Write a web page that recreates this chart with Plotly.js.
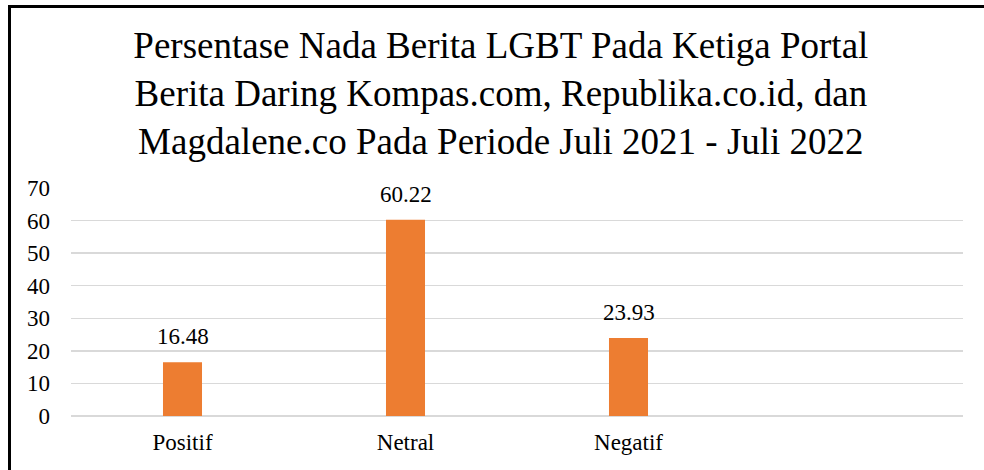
<!DOCTYPE html>
<html>
<head>
<meta charset="utf-8">
<script src="https://cdn.plot.ly/plotly-3.0.1.min.js"></script>
<style>
  html, body { margin: 0; padding: 0; background: #fff; overflow: hidden; }
  #chart { width: 984px; height: 470px; position: absolute; left: 0; top: 0; }
  #frame { position: absolute; left: 8px; top: 5px; width: 2000px; height: 2000px;
           border-left: 3px solid #000; border-top: 3px solid #000; pointer-events: none; z-index: 10; }
</style>
</head>
<body>
<div id="chart"></div>
<div id="frame"></div>
<script>
const categories = ['Positif', 'Netral', 'Negatif'];
const values = [16.48, 60.22, 23.93];
const valueLabels = ['16.48', '60.22', '23.93'];
const yTicks = [0, 10, 20, 30, 40, 50, 60, 70];

const FONT = "'Liberation Serif', 'Times New Roman', Times, serif";

const trace = {
  type: 'bar',
  x: categories,
  y: values,
  width: 0.175,
  marker: { color: '#ED7D31' },
  hoverinfo: 'x+y',
  showlegend: false
};

const annotations = categories.map((c, i) => ({
  x: c, y: values[i], xref: 'x', yref: 'y',
  text: valueLabels[i], showarrow: false,
  yanchor: 'bottom', yshift: 11,
  font: { family: FONT, size: 23, color: '#000' }
}));

const layout = {
  width: 984, height: 470,
  paper_bgcolor: '#fff', plot_bgcolor: '#fff',
  margin: { l: 71, r: 21, t: 188, b: 54, pad: 0 },
  font: { family: FONT, size: 23, color: '#000' },
  title: {
    text: 'Persentase Nada Berita LGBT Pada Ketiga Portal<br>Berita Daring Kompas.com, Republika.co.id, dan<br>Magdalene.co Pada Periode Juli 2021 - Juli 2022',
    font: { family: FONT, size: 37, color: '#000' },
    xref: 'container', x: 0.509, xanchor: 'center',
    yref: 'container', y: 0.877, yanchor: 'middle'
  },
  xaxis: {
    type: 'category',
    categoryorder: 'array', categoryarray: categories,
    range: [-0.5, 3.5],
    showgrid: false, showline: false, zeroline: false,
    ticks: '', ticklabelstandoff: 10,
    tickfont: { family: FONT, size: 23, color: '#000' },
    fixedrange: true
  },
  yaxis: {
    range: [0, 70],
    tickvals: yTicks, ticktext: yTicks.map(String),
    showgrid: true, gridcolor: '#d9d9d9', gridwidth: 1.3,
    zeroline: true, zerolinecolor: '#d9d9d9', zerolinewidth: 1.3,
    showline: false, ticks: '', ticklabelstandoff: 20,
    tickfont: { family: FONT, size: 23, color: '#000' },
    fixedrange: true
  },
  annotations: annotations
};

Plotly.newPlot('chart', [trace], layout, { displayModeBar: false, staticPlot: true });
</script>
</body>
</html>
